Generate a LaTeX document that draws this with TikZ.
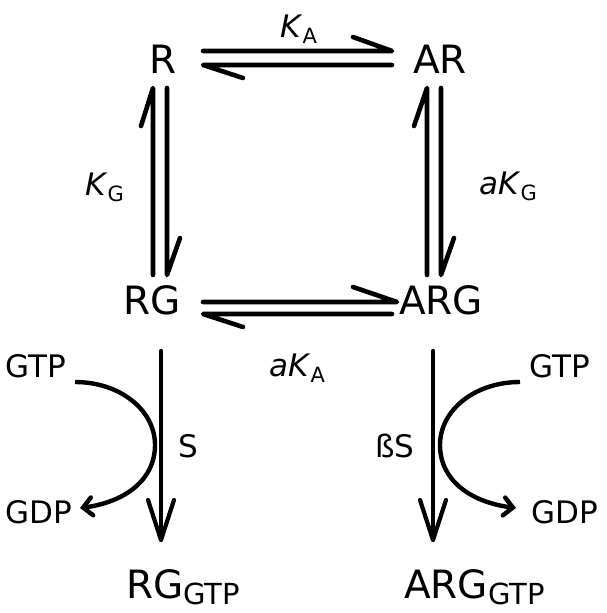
\documentclass[tikz,border=0pt]{standalone}
\usepackage{fontspec}
\setmainfont{DejaVu Sans}
\usetikzlibrary{arrows.meta}
\newcommand{\bigT}{\fontsize{39}{40}\selectfont}
\newcommand{\labT}{\fontsize{31}{32}\selectfont}
\newcommand{\kT}{\fontsize{31}{32}\selectfont}
\newcommand{\subT}{\fontsize{21}{22}\selectfont}
\newcommand{\lsub}[1]{\raisebox{-0.22em}{\subT #1}}
\newcommand{\bsub}[1]{\raisebox{-0.17em}{\fontsize{29}{30}\selectfont #1}}
\begin{document}
\begin{tikzpicture}[x=1pt,y=-1pt,
  harp/.style={line width=4.6pt, line cap=round, line join=round},
  rxn/.style={line width=4.2pt, line cap=round, line join=round},
  curv/.style={line width=4.4pt, -{Straight Barb[length=9pt,width=18pt,line cap=round]}},
  spec/.style={inner sep=0pt, anchor=base, font=\bigT},
  lab/.style={inner sep=0pt, anchor=base west, font=\labT},
  klab/.style={inner sep=0pt, anchor=base west, font=\kT}]
\useasboundingbox (0,0) rectangle (606,613);
% species
\node[spec] (R) at (163,73) {R};
\node[spec] (AR) at (440,73) {AR};
\node[spec] (RG) at (152,314) {RG};
\node[spec] (ARG) at (441,314) {ARG};
\node[inner sep=0pt, anchor=base west, font=\bigT] (RGG) at (126,598) {RG\bsub{GTP}};
\node[inner sep=0pt, anchor=base west, font=\bigT] (ARGG) at (404,598) {ARG\bsub{GTP}};
% labels
\node[klab] (KA) at (280,37) {\textit{K}\lsub{A}};
\node[klab] (KG) at (85,195) {\textit{K}\lsub{G}};
\node[klab] (aKG) at (479,194) {\textit{aK}\lsub{G}};
\node[klab] (aKA) at (269,376) {\textit{aK}\lsub{A}};
\node[lab] (GTPl) at (5,377) {GTP};
\node[lab] (GDPl) at (5,523) {GDP};
\node[lab] (Sl) at (178,457) {S};
\node[lab] (GTPr) at (529,377) {GTP};
\node[lab] (GDPr) at (531,523) {GDP};
\node[lab] (bSl) at (375,457) {ßS};
% top harpoons R <-> AR
\coordinate (t1a) at (203,51); \coordinate (t1b) at (392,51); \coordinate (t1c) at (353,37);
\coordinate (t2a) at (203,65); \coordinate (t2b) at (392,65); \coordinate (t2c) at (243,78);
\draw[harp] (t1a) -- (t1b) -- (t1c);
\draw[harp] (t2b) -- (t2a) -- (t2c);
% bottom harpoons RG <-> ARG
\coordinate (b1a) at (203,302); \coordinate (b1b) at (397,302); \coordinate (b1c) at (353,287);
\coordinate (b2a) at (203,314); \coordinate (b2b) at (392,314); \coordinate (b2c) at (243,327);
\draw[harp] (b1a) -- (b1b) -- (b1c);
\draw[harp] (b2b) -- (b2a) -- (b2c);
% left vertical harpoons R <-> RG
\coordinate (l1a) at (153,88); \coordinate (l1b) at (153,275); \coordinate (l1c) at (141,126);
\coordinate (l2a) at (167,88); \coordinate (l2b) at (167,275); \coordinate (l2c) at (180,238);
\draw[harp] (l1b) -- (l1a) -- (l1c);
\draw[harp] (l2a) -- (l2b) -- (l2c);
% right vertical harpoons AR <-> ARG
\coordinate (r1a) at (427,88); \coordinate (r1b) at (427,275); \coordinate (r1c) at (414,126);
\coordinate (r2a) at (441,88); \coordinate (r2b) at (441,275); \coordinate (r2c) at (454,238);
\draw[harp] (r1b) -- (r1a) -- (r1c);
\draw[harp] (r2a) -- (r2b) -- (r2c);
% downward reaction arrows
\coordinate (dl0) at (161,351); \coordinate (dl1) at (161,540);
\coordinate (dr0) at (433,351); \coordinate (dr1) at (433,540);
\draw[rxn] (dl0) -- (dl1);
\draw[rxn] (148,500) -- (dl1) -- (174,500);
\draw[rxn] (dr0) -- (dr1);
\draw[rxn] (420,500) -- (dr1) -- (446,500);
% GTP -> GDP curves
\coordinate (cl0) at (75,382); \coordinate (cl1) at (80,508);
\draw[curv] (cl0) .. controls (120,382) and (155,410) .. (155,445)
  .. controls (155,480) and (125,502) .. (cl1);
\coordinate (cr0) at (520,382); \coordinate (cr1) at (516,508);
\draw[curv] (cr0) .. controls (475,382) and (440,410) .. (440,445)
  .. controls (440,480) and (470,502) .. (cr1);
\end{tikzpicture}
\end{document}
